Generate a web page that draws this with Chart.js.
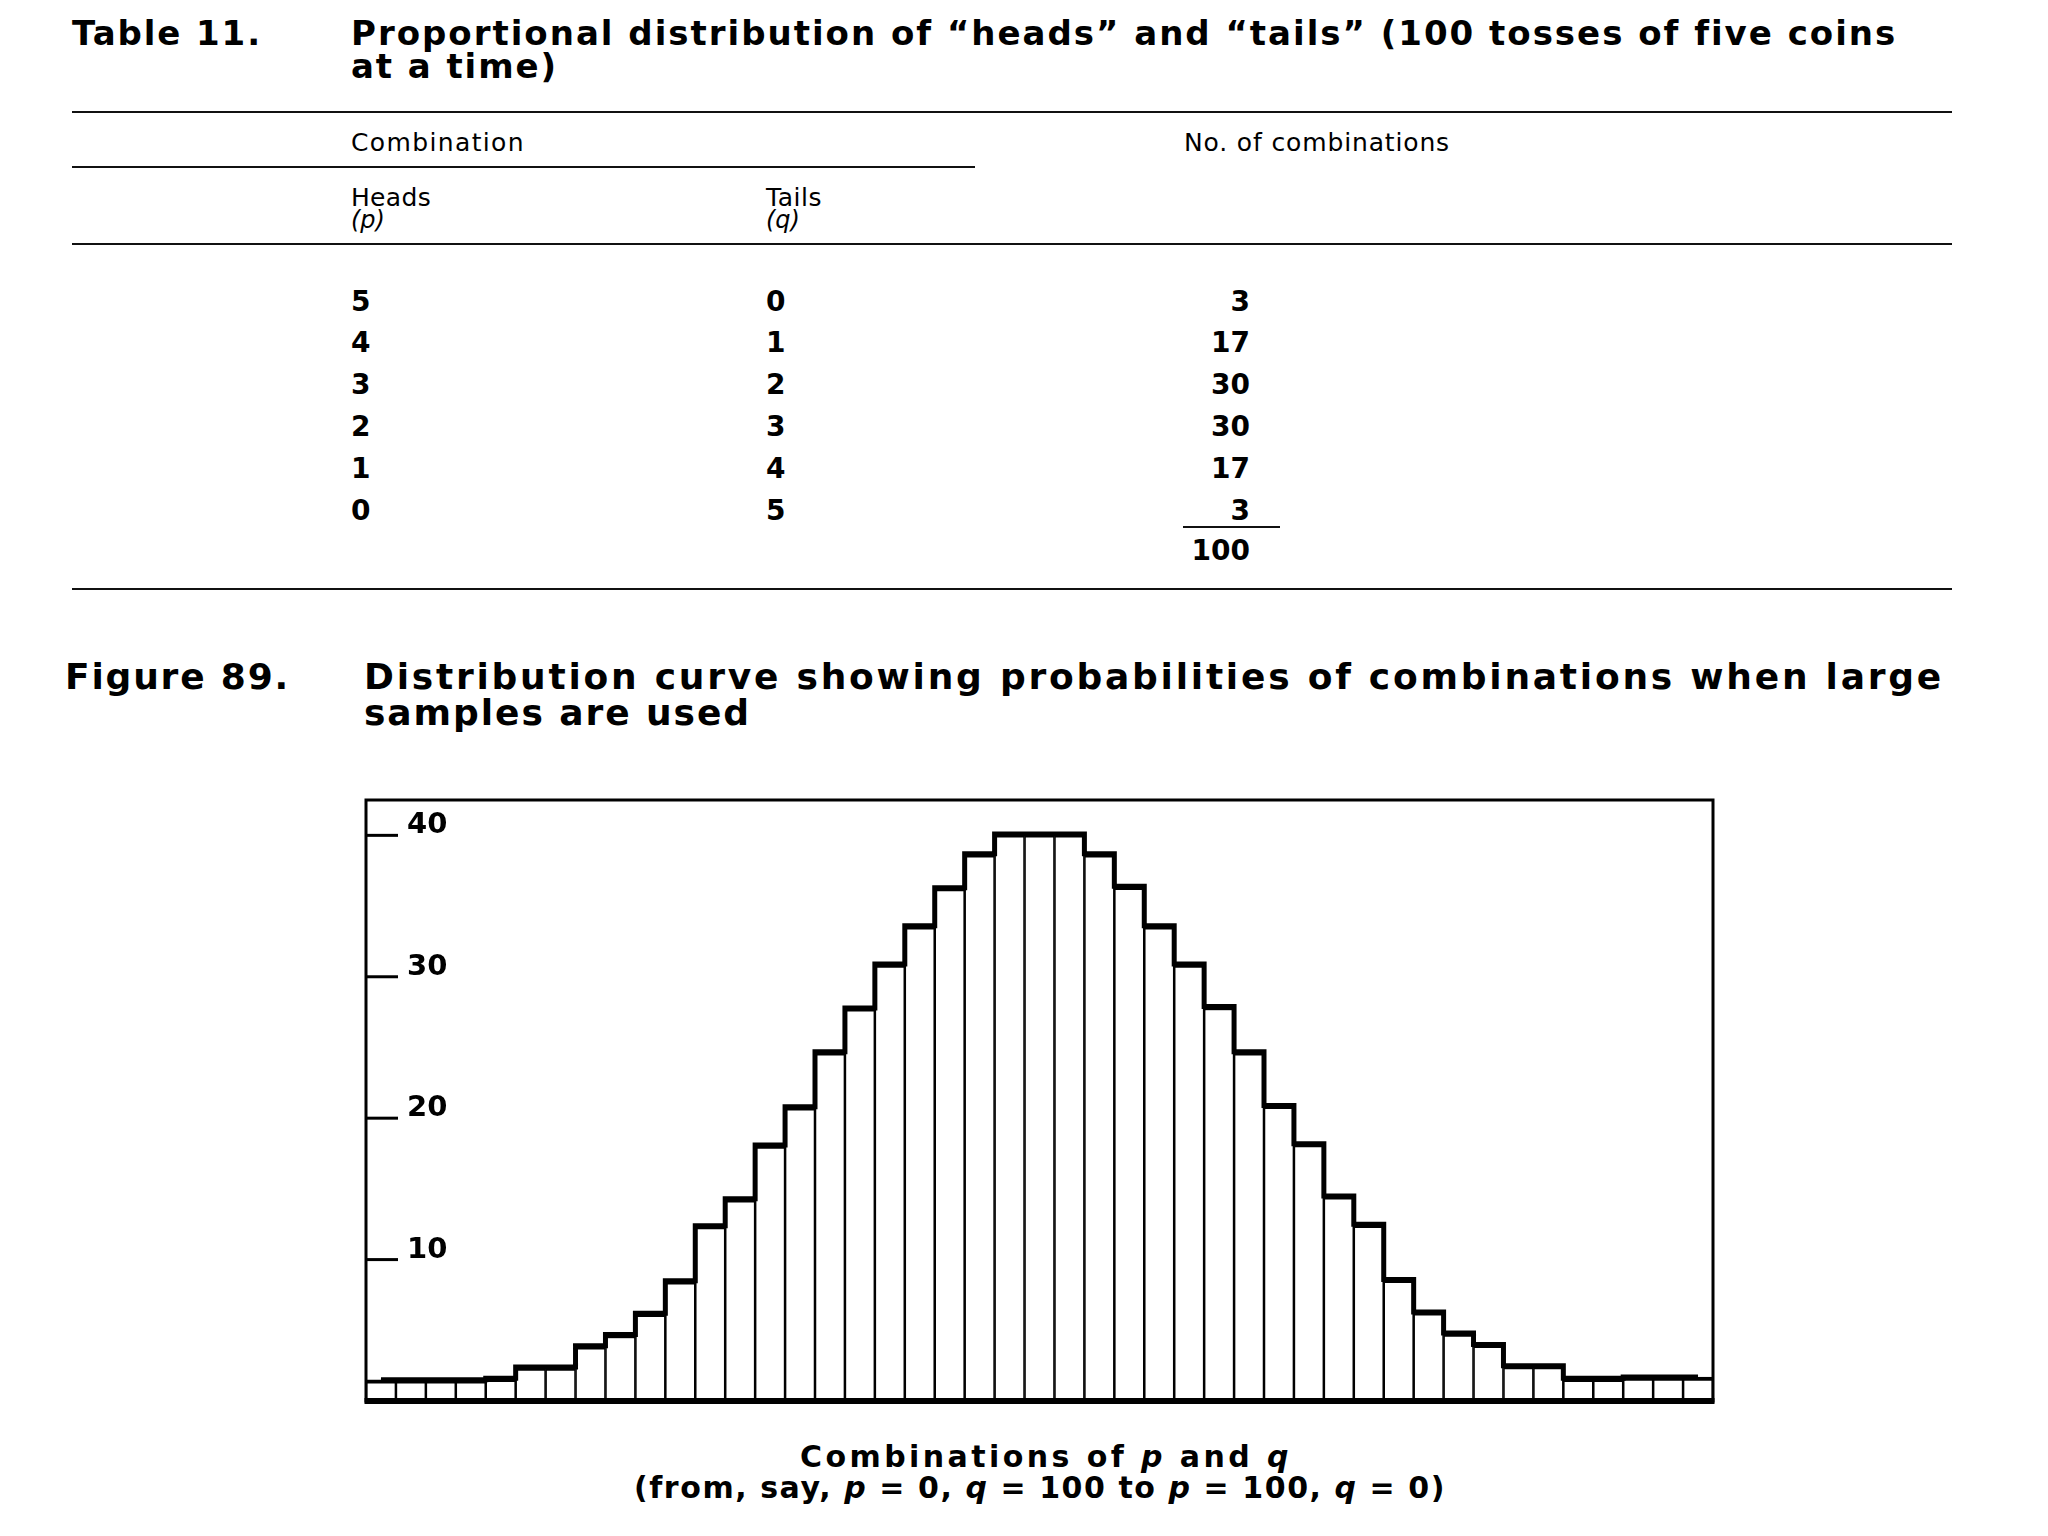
<!DOCTYPE html>
<html lang="en">
<head>
<meta charset="UTF-8">
<title>Figure 89 - Distribution curve</title>
<script src="https://cdn.jsdelivr.net/npm/chart.js@4"></script>
<style>
  html, body { margin: 0; padding: 0; background: #fff; }
  body { width: 2048px; height: 1536px; position: relative; overflow: hidden; font-family: "DejaVu Sans", sans-serif; color: #000; }
  .t { position: absolute; white-space: nowrap; }
  .rule { position: absolute; height: 0; border-top: 2px solid #111; }
  #wrap { position: absolute; left: 356px; top: 790px; width: 1367px; height: 621px; }
</style>
</head>
<body>
<div id="wrap"><canvas id="chart" width="1367" height="621"></canvas></div>

<script>
// table 11 data
const headsCol = [5, 4, 3, 2, 1, 0];
const tailsCol = [0, 1, 2, 3, 4, 5];
const combCount = [3, 17, 30, 30, 17, 3];
const combTotal = 100;

// figure 89 data (45 bins)
const binLabels = [1, 2, 3, 4, 5, 6, 7, 8, 9, 10, 11, 12, 13, 14, 15, 16, 17, 18, 19, 20, 21, 22, 23,
  24, 25, 26, 27, 28, 29, 30, 31, 32, 33, 34, 35, 36, 37, 38, 39, 40, 41, 42, 43, 44, 45];
const binValues = [1.5, 1.5, 1.5, 1.5, 1.6, 2.4, 2.4, 3.9, 4.7, 6.2, 8.5, 12.4, 14.3, 18.1, 20.8, 24.7,
  27.8, 30.9, 33.6, 36.3, 38.7, 40.1, 40.1,
  40.1, 38.7, 36.4, 33.6, 30.9, 27.9, 24.7, 20.9, 18.2, 14.5, 12.5, 8.6, 6.3, 4.8, 4.0, 2.5, 2.5,
  1.6, 1.6, 1.7, 1.7, 1.7];
const yTicks = [10, 20, 30, 40];

const WIDE = '"DejaVu Sans", sans-serif';

// text helper: x = anchor, base = baseline y
function txt(html, x, base, size, opts = {}) {
  const d = document.createElement('div');
  d.className = 't';
  d.innerHTML = html;
  d.style.fontFamily = opts.family || WIDE;
  d.style.fontSize = size + 'px';
  d.style.lineHeight = size + 'px';
  d.style.left = x + 'px';
  d.style.fontWeight = opts.weight || 400;
  if (opts.align === 'right') d.style.transform = 'translateX(-100%)';
  if (opts.align === 'center') d.style.transform = 'translateX(-50%)';
  document.body.appendChild(d);
  // put the baseline where it was asked
  const probe = document.createElement('span');
  probe.style.display = 'inline-block';
  probe.style.width = '0';
  probe.style.height = '0';
  d.appendChild(probe);
  d.style.top = '0px';
  const off = probe.getBoundingClientRect().top - d.getBoundingClientRect().top;
  d.style.top = (base - off) + 'px';
  if (opts.width) {
    // stretch letter spacing so the line spans the same width as in the print
    const n = d.textContent.length;
    const w = d.getBoundingClientRect().width;
    d.style.letterSpacing = ((opts.width - w) / n) + 'px';
  }
  return d;
}
function rule(x1, x2, y, w = 2) {
  const r = document.createElement('div');
  r.className = 'rule';
  r.style.left = x1 + 'px';
  r.style.width = (x2 - x1) + 'px';
  r.style.top = y + 'px';
  r.style.borderTopWidth = w + 'px';
  document.body.appendChild(r);
}

// Table 11
txt('Table 11.', 72, 45, 34, { weight: 700, width: 190 });
txt('Proportional distribution of “heads” and “tails” (100 tosses of five coins', 351, 45, 34, { weight: 700, width: 1545 });
txt('at a time)', 351, 78, 34, { weight: 700, width: 207 });
rule(72, 1952, 111);
txt('Combination', 351, 151, 25, { width: 174 });
txt('No. of combinations', 1184, 151, 25, { width: 266 });
rule(72, 975, 166);
txt('Heads', 351, 206, 25, { width: 80 });
txt('<i>(p)</i>', 351, 228, 24);
txt('Tails', 766, 206, 25, { width: 56 });
txt('<i>(q)</i>', 766, 228, 24);
rule(72, 1952, 243);
const rowBase = [311, 352, 394, 436, 478, 520];
headsCol.forEach((h, i) => {
  txt(String(h), 351, rowBase[i], 28, { weight: 700 });
  txt(String(tailsCol[i]), 766, rowBase[i], 28, { weight: 700 });
  txt(String(combCount[i]), 1250, rowBase[i], 28, { weight: 700, align: 'right' });
});
rule(1183, 1280, 526);
txt(String(combTotal), 1250, 560, 28, { weight: 700, align: 'right' });
rule(72, 1952, 588);

// Figure 89 caption
txt('Figure 89.', 65, 689, 36, { weight: 700, width: 225 });
txt('Distribution curve showing probabilities of combinations when large', 364, 689, 36, { weight: 700, width: 1580 });
txt('samples are used', 364, 725, 36, { weight: 700, width: 387 });

// x axis caption
txt('Combinations of <i>p</i> and <i>q</i>', 1046, 1467, 30, { weight: 700, align: 'center', width: 492 });
txt('(from, say, <i>p</i> = 0, <i>q</i> = 100 to <i>p</i> = 100, <i>q</i> = 0)', 1040, 1498, 30, { weight: 700, align: 'center', width: 812 });

// frame, thick base line and the inside tick marks of the y axis
const framePlugin = {
  id: 'frame',
  afterDraw(chart) {
    const { ctx, chartArea: a, scales } = chart;
    ctx.save();
    ctx.strokeStyle = '#000';
    ctx.lineWidth = 3;
    ctx.strokeRect(a.left, a.top, a.right - a.left, a.bottom - a.top);
    ctx.lineWidth = 6;
    ctx.beginPath();
    ctx.moveTo(a.left - 1.5, a.bottom);
    ctx.lineTo(a.right + 1.5, a.bottom);
    ctx.stroke();
    ctx.lineWidth = 3;
    ctx.fillStyle = '#000';
    ctx.font = 'bold 29px ' + WIDE;
    ctx.textBaseline = 'alphabetic';
    yTicks.forEach(v => {
      const y = scales.y.getPixelForValue(v);
      ctx.beginPath();
      ctx.moveTo(a.left, y);
      ctx.lineTo(a.left + 32, y);
      ctx.stroke();
      ctx.fillText(String(v), a.left + 41, y - 2);
    });
    ctx.restore();
  }
};

new Chart(document.getElementById('chart'), {
  data: {
    labels: binLabels,
    datasets: [
      {
        type: 'line',
        data: binValues,
        stepped: 'middle',
        borderColor: '#000',
        borderWidth: 5,
        pointRadius: 0,
        fill: false,
        order: 0
      },
      {
        type: 'bar',
        data: binValues,
        backgroundColor: '#fff',
        borderColor: '#000',
        borderWidth: { left: 1.6, right: 1.6, top: 4, bottom: 0 },
        borderSkipped: false,
        barPercentage: 1,
        categoryPercentage: 1,
        order: 1
      }
    ]
  },
  options: {
    responsive: false,
    animation: false,
    devicePixelRatio: 1,
    layout: { padding: 10 },
    plugins: { legend: { display: false }, tooltip: { enabled: false } },
    scales: {
      x: { type: 'category', display: false, offset: true },
      y: { display: false, min: 0, max: 42.5 }
    }
  },
  plugins: [framePlugin]
});
</script>
</body>
</html>
